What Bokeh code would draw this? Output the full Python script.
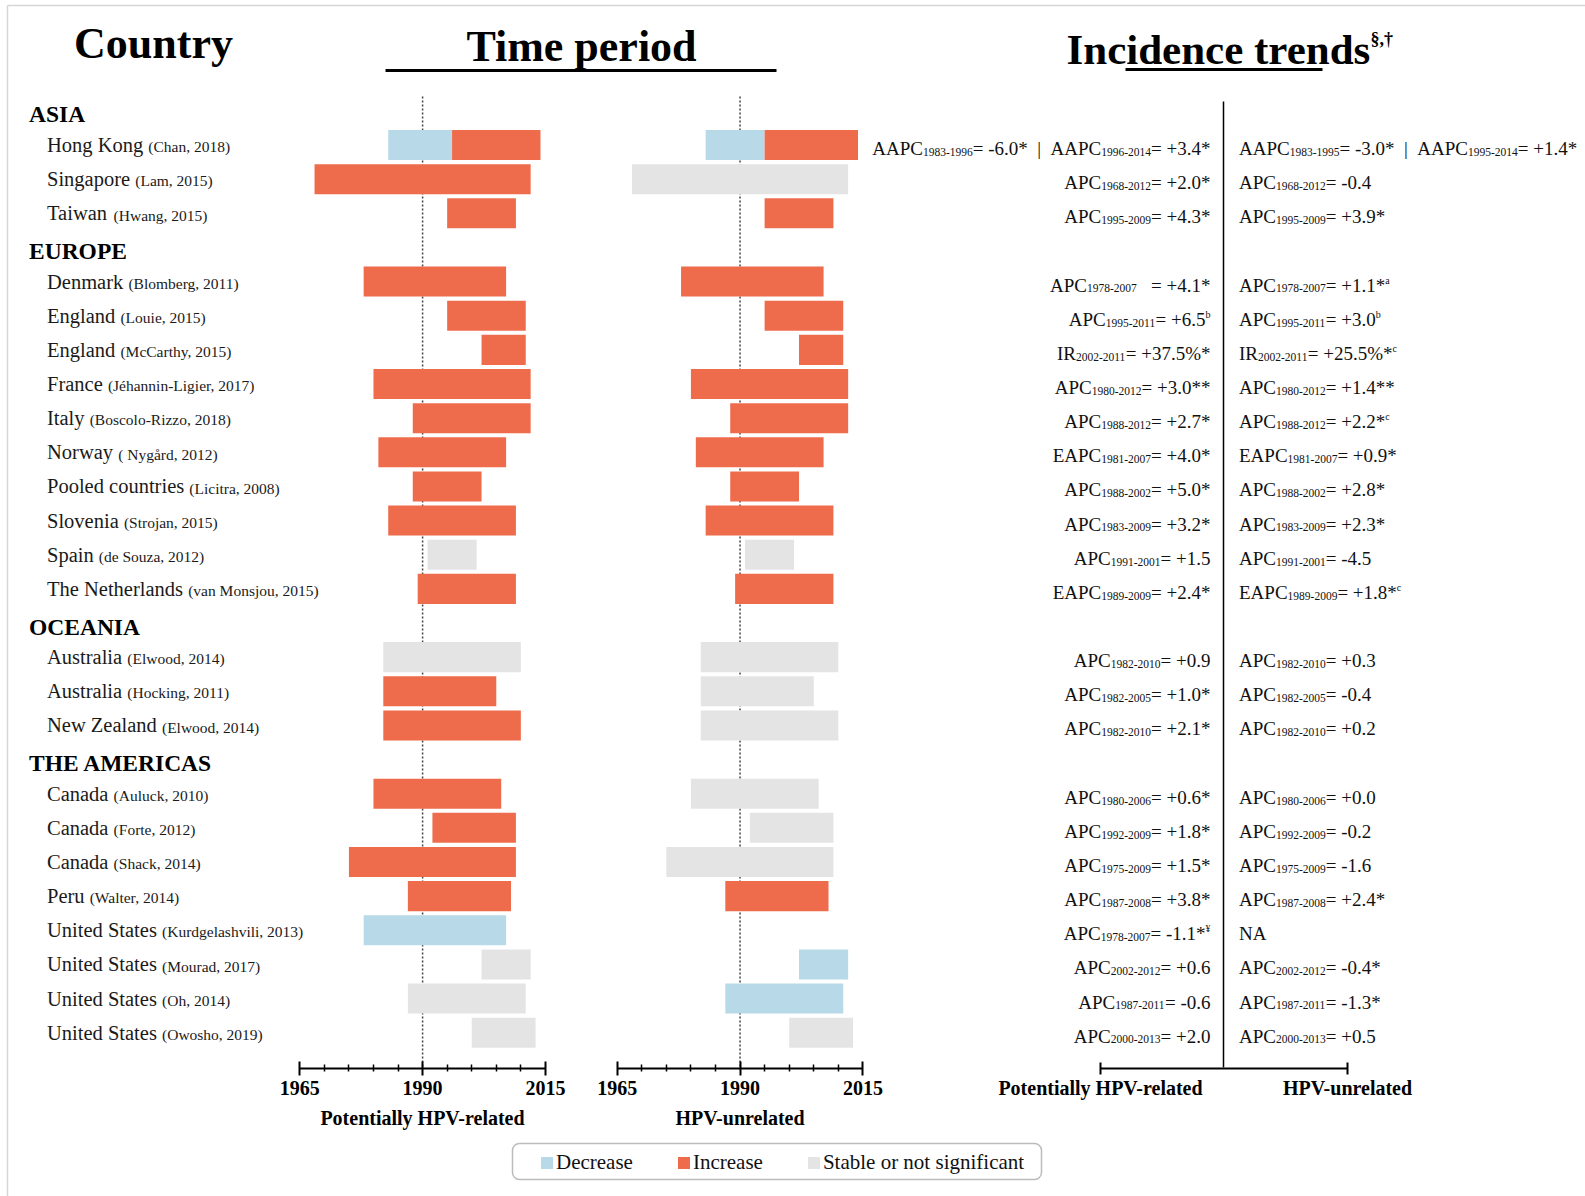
import re
from bokeh.plotting import figure
from bokeh.models import (Range1d, LinearAxis, FixedTicker, ColumnDataSource,
                          Legend, LegendItem, BoxAnnotation)
from bokeh.core.properties import value
from bokeh.embed import file_html
from bokeh.resources import INLINE

# ---------------- data ----------------
regions = ["ASIA", "EUROPE", "OCEANIA", "THE AMERICAS"]
study_region = [0, 0, 0, 1, 1, 1, 1, 1, 1, 1, 1, 1, 1, 2, 2, 2, 3, 3, 3, 3, 3, 3, 3, 3]
countries = ["Hong Kong", "Singapore", "Taiwan", "Denmark", "England", "England", "France",
             "Italy", "Norway", "Pooled countries", "Slovenia", "Spain", "The Netherlands",
             "Australia", "Australia", "New Zealand", "Canada", "Canada", "Canada", "Peru",
             "United States", "United States", "United States", "United States"]
citations = ["(Chan, 2018)", "(Lam, 2015)", "(Hwang, 2015)", "(Blomberg, 2011)", "(Louie, 2015)",
             "(McCarthy, 2015)", "(Jéhannin-Ligier, 2017)", "(Boscolo-Rizzo, 2018)",
             "( Nygård, 2012)", "(Licitra, 2008)", "(Strojan, 2015)", "(de Souza, 2012)",
             "(van Monsjou, 2015)", "(Elwood, 2014)", "(Hocking, 2011)", "(Elwood, 2014)",
             "(Auluck, 2010)", "(Forte, 2012)", "(Shack, 2014)", "(Walter, 2014)",
             "(Kurdgelashvili, 2013)", "(Mourad, 2017)", "(Oh, 2014)", "(Owosho, 2019)"]

# periods (start, end, trend) D=decrease, I=increase, S=stable / not significant
hpv_related = [[(1983, 1996, "D"), (1996, 2014, "I")], [(1968, 2012, "I")], [(1995, 2009, "I")],
               [(1978, 2007, "I")], [(1995, 2011, "I")], [(2002, 2011, "I")], [(1980, 2012, "I")],
               [(1988, 2012, "I")], [(1981, 2007, "I")], [(1988, 2002, "I")], [(1983, 2009, "I")],
               [(1991, 2001, "S")], [(1989, 2009, "I")], [(1982, 2010, "S")], [(1982, 2005, "I")],
               [(1982, 2010, "I")], [(1980, 2006, "I")], [(1992, 2009, "I")], [(1975, 2009, "I")],
               [(1987, 2008, "I")], [(1978, 2007, "D")], [(2002, 2012, "S")], [(1987, 2011, "S")],
               [(2000, 2013, "S")]]
hpv_unrelated = [[(1983, 1995, "D"), (1995, 2014, "I")], [(1968, 2012, "S")], [(1995, 2009, "I")],
                 [(1978, 2007, "I")], [(1995, 2011, "I")], [(2002, 2011, "I")], [(1980, 2012, "I")],
                 [(1988, 2012, "I")], [(1981, 2007, "I")], [(1988, 2002, "I")], [(1983, 2009, "I")],
                 [(1991, 2001, "S")], [(1989, 2009, "I")], [(1982, 2010, "S")], [(1982, 2005, "S")],
                 [(1982, 2010, "S")], [(1980, 2006, "S")], [(1992, 2009, "S")], [(1975, 2009, "S")],
                 [(1987, 2008, "I")], [], [(2002, 2012, "D")], [(1987, 2011, "D")],
                 [(2000, 2013, "S")]]

# trend texts: _{..} subscript, ^{..} superscript
related_text = ["AAPC_{1983-1996}= -6.0*  |  AAPC_{1996-2014}= +3.4*", "APC_{1968-2012}= +2.0*",
                "APC_{1995-2009}= +4.3*", "APC_{1978-2007}   = +4.1*", "APC_{1995-2011}= +6.5^{b}",
                "IR_{2002-2011}= +37.5%*", "APC_{1980-2012}= +3.0**", "APC_{1988-2012}= +2.7*",
                "EAPC_{1981-2007}= +4.0*", "APC_{1988-2002}= +5.0*", "APC_{1983-2009}= +3.2*",
                "APC_{1991-2001}= +1.5", "EAPC_{1989-2009}= +2.4*", "APC_{1982-2010}= +0.9",
                "APC_{1982-2005}= +1.0*", "APC_{1982-2010}= +2.1*", "APC_{1980-2006}= +0.6*",
                "APC_{1992-2009}= +1.8*", "APC_{1975-2009}= +1.5*", "APC_{1987-2008}= +3.8*",
                "APC_{1978-2007}= -1.1*^{¥}", "APC_{2002-2012}= +0.6", "APC_{1987-2011}= -0.6",
                "APC_{2000-2013}= +2.0"]
unrelated_text = ["AAPC_{1983-1995}= -3.0*  |  AAPC_{1995-2014}= +1.4*", "APC_{1968-2012}= -0.4",
                  "APC_{1995-2009}= +3.9*", "APC_{1978-2007}= +1.1*^{a}", "APC_{1995-2011}= +3.0^{b}",
                  "IR_{2002-2011}= +25.5%*^{c}", "APC_{1980-2012}= +1.4**", "APC_{1988-2012}= +2.2*^{c}",
                  "EAPC_{1981-2007}= +0.9*", "APC_{1988-2002}= +2.8*", "APC_{1983-2009}= +2.3*",
                  "APC_{1991-2001}= -4.5", "EAPC_{1989-2009}= +1.8*^{c}", "APC_{1982-2010}= +0.3",
                  "APC_{1982-2005}= -0.4", "APC_{1982-2010}= +0.2", "APC_{1980-2006}= +0.0",
                  "APC_{1992-2009}= -0.2", "APC_{1975-2009}= -1.6", "APC_{1987-2008}= +2.4*",
                  "NA", "APC_{2002-2012}= -0.4*", "APC_{1987-2011}= -1.3*", "APC_{2000-2013}= +0.5"]

year_ticks = [1965, 1990, 2015]
year_minor = [1970, 1975, 1980, 1985, 1995, 2000, 2005, 2010]
trend_labels = ["Potentially HPV-related", "HPV-unrelated"]
status_names = {"D": "Decrease", "I": "Increase", "S": "Stable or not significant"}
status_colors = {"D": "#B8DAE8", "I": "#EE6B4C", "S": "#E4E4E4"}

# ---------------- layout helpers ----------------
W, H = 1585, 1196
SERIF = "Liberation Serif"
ROW0, ROWH = 110.4, 34.14          # pixel y of slot 0, pixel per slot

# Times (Liberation Serif) advance widths, em units
CW = {' ': .25, '(': .333, ')': .333, ',': .25, '.': .25, '-': .333, '=': .564, '+': .564,
      '*': .5, '%': .833, '|': .2, '¥': .5, 'é': .444, 'å': .444}
for ch in "0123456789":
    CW[ch] = .5
CW.update(dict(zip("ABCDEFGHIJKLMNOPQRSTUVWXYZ",
                   [.722, .667, .667, .722, .611, .556, .722, .722, .333, .389, .722, .611, .889,
                    .722, .722, .556, .722, .667, .556, .611, .722, .722, .944, .722, .722, .611])))
CW.update(dict(zip("abcdefghijklmnopqrstuvwxyz",
                   [.444, .5, .444, .5, .444, .333, .5, .5, .278, .278, .5, .278, .778, .5, .5, .5,
                    .5, .333, .389, .278, .5, .5, .722, .5, .5, .444])))


def tw(s, size):
    return sum(CW.get(c, .5) for c in s) * size


def year_range(px1965, px2015):
    k = (px2015 - px1965) / 50.0
    return Range1d(1965 - px1965 / k, 1965 + (W - px1965) / k)


p = figure(width=W, height=H, x_range=Range1d(0, W), y_range=Range1d(H, 0),
           x_axis_location=None, y_axis_location=None, toolbar_location=None,
           output_backend="svg", min_border=0, outline_line_color=None,
           background_fill_color="white", border_fill_color="white")
p.grid.visible = False
p.extra_y_ranges = {"rows": Range1d((H - ROW0) / ROWH, -ROW0 / ROWH)}
p.extra_x_ranges = {"p1": year_range(299.3, 544.9), "p2": year_range(616.7, 862.4)}

# page border (top / left)
p.segment(x0=[7, 7], y0=[5, 5], x1=[W, 7], y1=[5, H], line_color="#d6d6d6", line_width=1.5)

# ---------------- slots ----------------
slots, region_slots = [], []
slot = 0
prev = None
for r in study_region:
    if r != prev:
        region_slots.append(slot)
        slot += 1
        prev = r
    slots.append(slot)
    slot += 1

# ---------------- titles ----------------
def title(x, y, s, size, align):
    p.text(x=[x], y=[y], text=[s], text_font=value(SERIF), text_font_style="bold",
           text_font_size=size, text_align=align, text_baseline="middle", text_color="black")


title(153, 43, "Country", "44px", "center")
title(581, 46, "Time period", "44px", "center")
title(1066, 49, "Incidence trends", "43px", "left")
title(1370, 38, "§,†", "18px", "left")
p.segment(x0=[385, 1125], y0=[70, 69], x1=[776, 1322], y1=[70, 69], line_color="black", line_width=3)

# ---------------- region headers & study labels ----------------
p.text(x=[28.5] * len(regions), y=region_slots, text=regions, y_range_name="rows",
       text_font=value(SERIF), text_font_style="bold", text_font_size="23.5px",
       text_baseline="middle", y_offset=3.5, text_color="black")
NAME_SIZE, CIT_SIZE = 20.5, 15.5
cit_x = [46.5 + tw(c + " ", NAME_SIZE) for c in countries]
p.text(x=[46.5] * len(countries), y=slots, text=countries, y_range_name="rows",
       text_font=value(SERIF), text_font_size=f"{NAME_SIZE}px", text_baseline="middle",
       y_offset=0, text_color="#1a1a1a")
p.text(x=cit_x, y=slots, text=citations, y_range_name="rows",
       text_font=value(SERIF), text_font_size=f"{CIT_SIZE}px", text_baseline="middle",
       y_offset=1.7, text_color="#1a1a1a")

# ---------------- bars ----------------
legend_renderers = {}
for data, rng in ((hpv_related, "p1"), (hpv_unrelated, "p2")):
    p.segment(x0=[1990], x1=[1990], y0=[96], y1=[1067], x_range_name=rng,
              line_color="#444444", line_width=1.5, line_dash="2 2")
    for st in ("D", "I", "S"):
        rows_, s_, e_ = [], [], []
        for i, periods in enumerate(data):
            for (a, b, t) in periods:
                if t == st:
                    rows_.append(slots[i]); s_.append(a); e_.append(b)
        src = ColumnDataSource(dict(row=rows_, start=s_, end=e_))
        r = p.hbar(y="row", left="start", right="end", height=0.88, source=src,
                   x_range_name=rng, y_range_name="rows",
                   fill_color=status_colors[st], line_color=None)
        if rng == "p1":
            legend_renderers[st] = r

# year axes
for rng, lab in (("p1", trend_labels[0]), ("p2", trend_labels[1])):
    ax = LinearAxis(x_range_name=rng, fixed_location=1067.5, bounds=(1965, 2015),
                    ticker=FixedTicker(ticks=year_ticks, minor_ticks=year_minor),
                    axis_label=lab, axis_line_width=2, axis_line_color="black",
                    major_tick_line_width=2, major_tick_in=7, major_tick_out=7,
                    minor_tick_line_width=1.5, minor_tick_in=4, minor_tick_out=3,
                    major_label_standoff=6, axis_label_standoff=8,
                    major_label_text_font=SERIF, major_label_text_font_style="bold",
                    major_label_text_font_size="20px", major_label_text_color="black",
                    axis_label_text_font=SERIF, axis_label_text_font_style="bold",
                    axis_label_text_font_size="20px", axis_label_text_color="black")
    p.add_layout(ax, "below")

# ---------------- trend text columns ----------------
SIZES = {"n": 19, "sub": 11.5, "sup": 10}
OFFS = {"n": 3.5, "sub": 6.8, "sup": -1.5}
pieces = {"n": ([], [], []), "sub": ([], [], []), "sup": ([], [], [])}


def parse(s):
    out = []
    for tok in re.split(r'(_\{[^}]*\}|\^\{[^}]*\})', s):
        if not tok:
            continue
        if tok.startswith("_{"):
            out.append((tok[2:-1], "sub"))
        elif tok.startswith("^{"):
            out.append((tok[2:-1], "sup"))
        else:
            # split on runs of 2+ spaces so that SVG whitespace collapsing is harmless
            parts = re.split(r'( {2,})', tok)
            for part in parts:
                if part:
                    out.append((part, "n"))
    return out


for texts, anchor, align in ((related_text, 1210, "right"), (unrelated_text, 1238.5, "left")):
    for i, s in enumerate(texts):
        toks = parse(s)
        total = sum(tw(t, SIZES[k]) for t, k in toks)
        x = anchor - total if align == "right" else anchor
        for t, k in toks:
            lead = len(t) - len(t.lstrip(" "))
            core = t.strip(" ")
            if core:
                pieces[k][0].append(x + tw(" " * lead, SIZES[k]))
                pieces[k][1].append(slots[i])
                pieces[k][2].append(core)
            x += tw(t, SIZES[k])

for k in ("n", "sub", "sup"):
    xs, ys, ts = pieces[k]
    p.text(x=xs, y=ys, text=ts, y_range_name="rows", text_font=value(SERIF),
           text_font_size=f"{SIZES[k]}px", text_baseline="middle", y_offset=OFFS[k],
           text_color="#111111")

# separator and bracket axis
p.segment(x0=[1223], x1=[1223], y0=[101], y1=[1067], line_color="black", line_width=1.5)
bracket = LinearAxis(fixed_location=1067.5, bounds=(1100, 1347),
                     ticker=FixedTicker(ticks=[1100, 1347]),
                     major_label_overrides={1100: trend_labels[0], 1347: trend_labels[1]},
                     axis_line_width=2, axis_line_color="black", major_tick_line_width=2,
                     major_tick_in=6, major_tick_out=6, minor_tick_line_color=None,
                     major_label_standoff=3,
                     major_label_text_font=SERIF, major_label_text_font_style="bold",
                     major_label_text_font_size="20px", major_label_text_color="black")
p.add_layout(bracket, "below")

# ---------------- legend ----------------
box = BoxAnnotation(left=512, right=1041, top=1143, bottom=1179, fill_color=None,
                    line_color="#222222", line_width=1.5, border_radius=7)
p.add_layout(box)
legend = Legend(items=[LegendItem(label=status_names[s], renderers=[legend_renderers[s]])
                       for s in ("D", "I", "S")],
                orientation="horizontal", location=(539, 21.5), padding=0, margin=0,
                spacing=43, glyph_width=15, glyph_height=15, label_standoff=2,
                label_text_font=SERIF, label_text_font_size="21px", label_text_color="#111111",
                border_line_color=None, background_fill_alpha=0)
p.add_layout(legend, "center")

open("out.html", "w").write(file_html(p, INLINE))
